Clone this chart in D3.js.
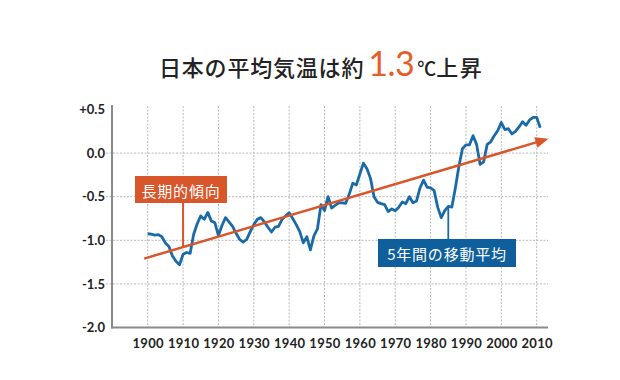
<!DOCTYPE html>
<html><head><meta charset="utf-8">
<script src="https://cdn.jsdelivr.net/npm/d3@7"></script>
<style>
html,body{margin:0;padding:0;background:#fff;}
svg{display:block;}
</style></head>
<body>
<svg id="chart" width="620" height="380"></svg>
<script>
// ---- data ----
const firstYear = 1900;
const movingAvg = [
 -0.925,-0.93,-0.94,-0.935,-0.96,-1.03,-1.07,-1.18,-1.24,-1.28,
 -1.16,-1.14,-1.15,-0.93,-0.81,-0.72,-0.76,-0.68,-0.78,-0.80,
 -0.945,-0.83,-0.74,-0.79,-0.84,-0.92,-0.99,-1.02,-0.99,-0.90,
 -0.82,-0.76,-0.74,-0.79,-0.85,-0.905,-0.85,-0.84,-0.76,-0.72,
 -0.685,-0.75,-0.82,-0.90,-1.03,-0.96,-1.11,-0.95,-0.87,-0.59,
 -0.66,-0.50,-0.63,-0.60,-0.57,-0.57,-0.575,-0.47,-0.345,-0.365,
 -0.24,-0.115,-0.18,-0.29,-0.50,-0.565,-0.58,-0.59,-0.67,-0.64,
 -0.66,-0.62,-0.56,-0.58,-0.50,-0.57,-0.55,-0.40,-0.31,-0.39,
 -0.40,-0.43,-0.62,-0.74,-0.66,-0.61,-0.62,-0.40,-0.15,0.05,
 0.095,0.095,0.20,0.10,-0.13,-0.10,0.10,0.13,0.20,0.26,
 0.35,0.27,0.28,0.22,0.25,0.30,0.36,0.32,0.38,0.41,
 0.41,0.29
];
const trendYears = [1899, 2013.3];
const trendValues = [-1.21, 0.165];
const xTicks = [1900,1910,1920,1930,1940,1950,1960,1970,1980,1990,2000,2010];
const yTicks = [0.5, 0, -0.5, -1, -1.5, -2];
const gridValues = [0, -0.5, -1, -1.5];
const titleMain = "日本の平均気温は約";
const titleNum = "1.3";
const titleUnit = "℃";
const titleEnd = "上昇";
const trendLabel = "長期的傾向";
const trendLabelYear = 1910;
const avgLabel = "5年間の移動平均";
const avgLabelYear = 1985;

// ---- colours ----
const blue = "#1b6aa8", blueBox = "#0f5f9d", orange = "#d9552a", grid = "#b9b9b9", axisCol = "#8a8a8a";

const svg = d3.select("#chart");
const x = d3.scaleLinear().domain([1900, 2010]).range([147.7, 536.7]);
const y = d3.scaleLinear().domain([-2, 0.5]).range([327.5, 109.5]);
const data = movingAvg.map((v, i) => ({year: firstYear + i, v}));

// gridlines
svg.append("g").selectAll("line").data(gridValues).join("line")
  .attr("x1", 106).attr("x2", 548)
  .attr("y1", d => y(d)).attr("y2", d => y(d))
  .attr("stroke", grid).attr("stroke-width", 1).attr("stroke-dasharray", "2,1.5");
svg.append("g").selectAll("line").data(xTicks).join("line")
  .attr("x1", d => x(d)).attr("x2", d => x(d))
  .attr("y1", 106).attr("y2", y(-2))
  .attr("stroke", grid).attr("stroke-width", 1).attr("stroke-dasharray", "2,1.5");

// axes
const fmt = d => d > 0 ? "+" + d.toFixed(1) : (d < 0 ? "-" + Math.abs(d).toFixed(1) : "0.0");
const yAxis = svg.append("g").attr("transform", "translate(112,0)")
  .call(d3.axisLeft(y).tickValues(yTicks).tickFormat(fmt).tickSize(0).tickPadding(7));
const xAxis = svg.append("g").attr("transform", `translate(0,${y(-2)})`)
  .call(d3.axisBottom(x).tickValues(xTicks).tickFormat(d3.format("d")).tickSize(0).tickPadding(8));
[yAxis, xAxis].forEach(a => {
  a.select(".domain").remove();
  a.selectAll("text").attr("font-family", "Lato, 'Open Sans', sans-serif")
    .attr("font-weight", 700).attr("font-size", 13).attr("fill", "#222");
});
xAxis.selectAll("text").attr("dy", "0.95em").attr("letter-spacing", 0.3);
svg.append("line").attr("x1", 112).attr("x2", 112).attr("y1", 105).attr("y2", y(-2) + 1)
  .attr("stroke", axisCol).attr("stroke-width", 2);
svg.append("line").attr("x1", 111).attr("x2", 548).attr("y1", y(-2)).attr("y2", y(-2))
  .attr("stroke", axisCol).attr("stroke-width", 2);

// moving average line
svg.append("path").datum(data)
  .attr("d", d3.line().x(d => x(d.year)).y(d => y(d.v)))
  .attr("fill", "none").attr("stroke", blue).attr("stroke-width", 2.8)
  .attr("stroke-linejoin", "round");

// trend line with arrow
const tx0 = x(trendYears[0]), ty0 = y(trendValues[0]);
const tx1 = x(trendYears[1]), ty1 = y(trendValues[1]);
const ang = Math.atan2(ty1 - ty0, tx1 - tx0);
const headLen = 13, headW = 5.5;
const bx = tx1 - headLen * Math.cos(ang), by = ty1 - headLen * Math.sin(ang);
svg.append("line").attr("x1", tx0).attr("y1", ty0).attr("x2", bx + 2 * Math.cos(ang)).attr("y2", by + 2 * Math.sin(ang))
  .attr("stroke", orange).attr("stroke-width", 2.5);
svg.append("path")
  .attr("d", `M${tx1},${ty1}L${bx - headW * Math.sin(ang)},${by + headW * Math.cos(ang)}L${bx + headW * Math.sin(ang)},${by - headW * Math.cos(ang)}Z`)
  .attr("fill", orange);

// trend label
const trendAt = yr => trendValues[0] + (yr - trendYears[0]) * (trendValues[1] - trendValues[0]) / (trendYears[1] - trendYears[0]);
svg.append("line").attr("x1", x(trendLabelYear)).attr("x2", x(trendLabelYear))
  .attr("y1", 200).attr("y2", y(trendAt(trendLabelYear)))
  .attr("stroke", orange).attr("stroke-width", 2);
svg.append("rect").attr("x", 135).attr("y", 176).attr("width", 92).attr("height", 27).attr("fill", orange);
svg.append("text").attr("x", 181).attr("y", 190).attr("text-anchor", "middle").attr("dominant-baseline", "central")
  .attr("font-family", "'Noto Sans CJK JP', sans-serif").attr("font-size", 15).attr("letter-spacing", 0.8)
  .attr("fill", "#fff").text(trendLabel);

// moving average label
const avgVal = movingAvg[avgLabelYear - firstYear];
svg.append("line").attr("x1", x(avgLabelYear)).attr("x2", x(avgLabelYear))
  .attr("y1", 241).attr("y2", y(avgVal))
  .attr("stroke", blue).attr("stroke-width", 1.8);
svg.append("rect").attr("x", 378).attr("y", 239).attr("width", 138).attr("height", 28).attr("fill", blueBox);
svg.append("text").attr("x", 447).attr("y", 253.5).attr("text-anchor", "middle").attr("dominant-baseline", "central")
  .attr("font-family", "'Noto Sans CJK JP', sans-serif").attr("font-size", 15).attr("letter-spacing", 0.8)
  .attr("fill", "#fff").text(avgLabel);

// title
const t = svg.append("text").attr("x", 159).attr("y", 76)
  .attr("font-family", "'Noto Sans CJK JP', sans-serif").attr("font-weight", 500).attr("fill", "#222");
t.append("tspan").attr("font-size", 22).attr("letter-spacing", 0.8).text(titleMain);
t.append("tspan").attr("font-size", 34).attr("dx", 4).attr("fill", "#e45d2b")
  .attr("font-family", "Lato, sans-serif").attr("font-weight", 400).attr("letter-spacing", -0.5).text(titleNum);
t.append("tspan").attr("font-size", 19).attr("dx", 3).text(titleUnit);
t.append("tspan").attr("font-size", 22).attr("letter-spacing", 1.5).text(titleEnd);
</script>
</body></html>
